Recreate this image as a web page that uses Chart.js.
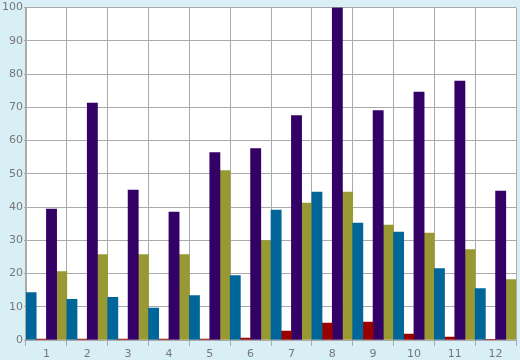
<!DOCTYPE html>
<html lang="en">
<head>
    <meta charset="UTF-8">
    <title>Bar chart</title>
    <script src="https://cdn.jsdelivr.net/npm/chart.js"></script>
    <style>
        body { margin: 0; background: #d9eff6; }
        #wrap { width: 520px; height: 360px; }
    </style>
</head>
<body>
    <div id="wrap"><canvas id="chart" width="520" height="360"></canvas></div>
    <script>
        const categories = ['1', '2', '3', '4', '5', '6', '7', '8', '9', '10', '11', '12'];
        const blueValues = [14.3, 12.2, 12.8, 9.6, 13.4, 19.4, 39.1, 44.5, 35.2, 32.5, 21.5, 15.5];
        const redValues = [0.3, 0.3, 0.3, 0.3, 0.3, 0.6, 2.7, 5.1, 5.4, 1.8, 0.9, 0.2];
        const purpleValues = [39.4, 71.3, 45.1, 38.5, 56.4, 57.6, 67.5, 100, 69, 74.6, 77.9, 44.8];
        const oliveValues = [20.6, 25.7, 25.7, 25.7, 51.0, 29.9, 41.2, 44.5, 34.6, 32.2, 27.2, 18.2];

        // white plot area on the light blue page
        const plotBackground = {
            id: 'plotBackground',
            beforeDraw(chart) {
                const a = chart.chartArea;
                const ctx = chart.ctx;
                ctx.save();
                ctx.fillStyle = '#ffffff';
                ctx.fillRect(a.left, a.top, a.right - a.left, a.bottom - a.top);
                ctx.restore();
            }
        };

        function series(data, color) {
            return {
                data: data,
                backgroundColor: color,
                borderWidth: 0,
                barPercentage: 1,
                categoryPercentage: 1
            };
        }

        new Chart(document.getElementById('chart').getContext('2d'), {
            type: 'bar',
            data: {
                labels: categories,
                datasets: [
                    series(blueValues, '#006699'),
                    series(redValues, '#990000'),
                    series(purpleValues, '#330066'),
                    series(oliveValues, '#999933')
                ]
            },
            plugins: [plotBackground],
            options: {
                responsive: false,
                animation: false,
                layout: { padding: { top: 5, right: 4, left: 0, bottom: 0 } },
                plugins: { legend: { display: false }, tooltip: { enabled: false } },
                scales: {
                    x: {
                        grid: { color: '#aaaaaa', lineWidth: 1, tickLength: 6 },
                        border: { color: '#aaaaaa' },
                        ticks: { color: '#777777', font: { family: 'DejaVu Sans', size: 11 }, padding: 2, maxRotation: 0 },
                        afterFit(scale) { scale.height = 20; }
                    },
                    y: {
                        min: 0,
                        max: 100,
                        grid: { color: '#aaaaaa', lineWidth: 1, tickLength: 2 },
                        border: { color: '#aaaaaa' },
                        ticks: { stepSize: 10, color: '#777777', font: { family: 'DejaVu Sans', size: 11 }, padding: 1 },
                        afterFit(scale) { scale.width = 26; }
                    }
                }
            }
        });
    </script>
</body>
</html>
